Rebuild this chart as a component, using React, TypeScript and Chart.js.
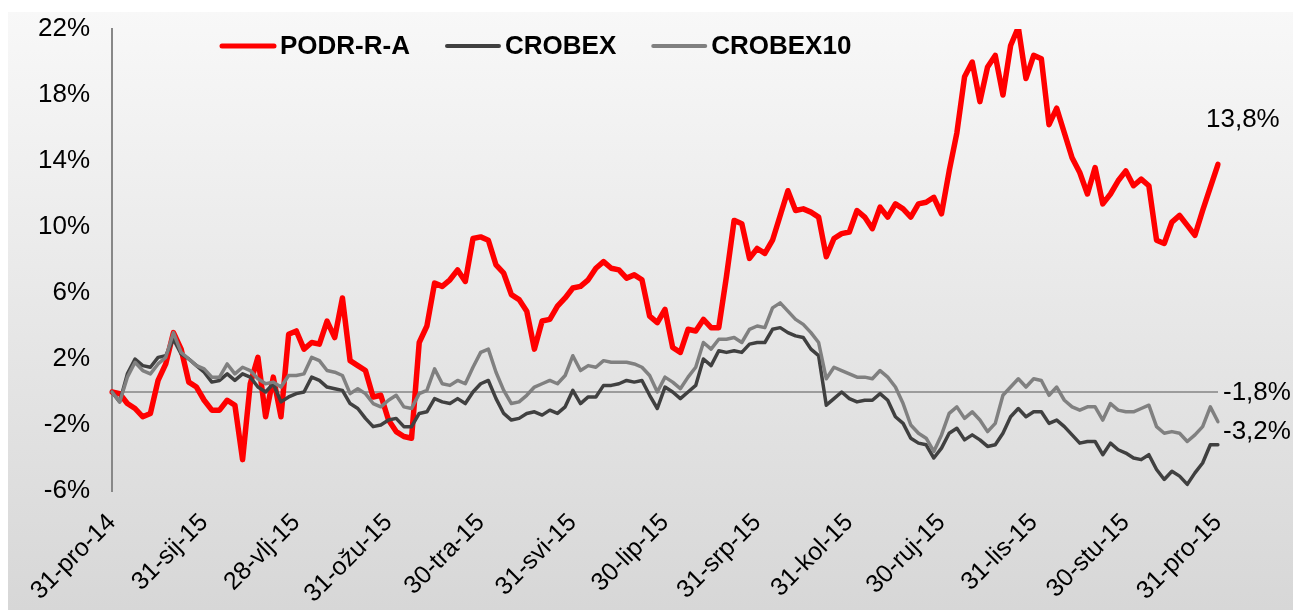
import React, { useEffect, useRef } from 'react';
import { Chart, registerables } from 'chart.js';

Chart.register(...registerables);

const FONT = '"Liberation Sans", Arial, sans-serif';

// Month-end labels shown on the category axis (one every `pointsPerMonth` points)
const monthLabels = [
  '31-pro-14', '31-sij-15', '28-vlj-15', '31-ožu-15', '30-tra-15', '31-svi-15', '30-lip-15',
  '31-srp-15', '31-kol-15', '30-ruj-15', '31-lis-15', '30-stu-15', '31-pro-15',
];
const pointsPerMonth = 12;

const yTicks = [-6, -2, 2, 6, 10, 14, 18, 22];

const seriesNames = ['PODR-R-A', 'CROBEX', 'CROBEX10'];

// Cumulative return (%), 12 samples per month
const podr = [
  0, -0.1, -0.7, -1.0, -1.5, -1.3, 0.7, 1.7, 3.6, 2.6, 0.6, 0.3,
  -0.5, -1.1, -1.1, -0.5, -0.8, -4.1, 0.5, 2.1, -1.5, 0.9, -1.5, 3.5,
  3.7, 2.6, 3.0, 2.9, 4.3, 3.3, 5.7, 1.9, 1.6, 1.3, -0.3, -0.2,
  -1.7, -2.4, -2.7, -2.8, 3.0, 4.0, 6.6, 6.4, 6.8, 7.4, 6.7, 9.3,
  9.4, 9.2, 7.7, 7.2, 5.9, 5.6, 4.9, 2.6, 4.3, 4.4, 5.2, 5.7,
  6.3, 6.4, 6.8, 7.5, 7.9, 7.5, 7.4, 6.9, 7.1, 6.8, 4.6, 4.2,
  5.0, 2.7, 2.4, 3.8, 3.7, 4.4, 3.9, 3.9, 7.0, 10.4, 10.2, 8.1,
  8.7, 8.4, 9.2, 10.7, 12.2, 11.0, 11.1, 10.9, 10.6, 8.2, 9.3, 9.6,
  9.7, 11.0, 10.6, 9.9, 11.2, 10.6, 11.4, 11.1, 10.6, 11.4, 11.5, 11.8,
  10.8, 13.4, 15.7, 19.1, 20.0, 17.6, 19.7, 20.4, 18.0, 21.0, 22.1, 19.0,
  20.4, 20.2, 16.2, 17.2, 15.7, 14.2, 13.3, 12.0, 13.6, 11.4, 12.0, 12.8,
  13.4, 12.5, 12.9, 12.5, 9.2, 9.0, 10.3, 10.7, 10.1, 9.5, 11.0, 12.4,
  13.8,
];

const crobex = [
  0, -0.6, 1.1, 2.0, 1.6, 1.5, 2.1, 2.2, 3.2, 2.3, 2.0, 1.6,
  1.2, 0.6, 0.7, 1.1, 0.7, 1.1, 0.9, 0.3, 0.0, 0.5, -0.6, -0.3,
  -0.1, 0.0, 0.9, 0.7, 0.3, 0.2, 0.1, -0.7, -1.0, -1.6, -2.1, -2.0,
  -1.7, -1.6, -2.1, -2.1, -1.3, -1.2, -0.4, -0.6, -0.7, -0.4, -0.7, 0.0,
  0.5, 0.7, -0.4, -1.3, -1.7, -1.6, -1.3, -1.2, -1.4, -1.1, -1.3, -0.9,
  0.1, -0.7, -0.3, -0.3, 0.4, 0.4, 0.5, 0.7, 0.6, 0.7, -0.2, -1.0,
  0.3, 0.0, -0.4, 0.0, 0.4, 2.0, 1.6, 2.5, 2.4, 2.5, 2.4, 2.9,
  3.0, 3.0, 3.8, 3.9, 3.6, 3.4, 3.3, 2.6, 2.2, -0.8, -0.4, 0.0,
  -0.4, -0.6, -0.5, -0.5, -0.1, -0.5, -1.5, -1.9, -2.8, -3.1, -3.2, -4.0,
  -3.4, -2.5, -2.2, -2.9, -2.6, -2.9, -3.3, -3.2, -2.5, -1.5, -1.0, -1.5,
  -1.2, -1.2, -1.9, -1.7, -2.1, -2.6, -3.1, -3.0, -3.0, -3.8, -3.1, -3.5,
  -3.7, -4.0, -4.1, -3.8, -4.7, -5.3, -4.8, -5.1, -5.6, -4.9, -4.3, -3.2,
  -3.2,
];

const crobex10 = [
  0, -0.6, 0.9, 1.8, 1.3, 1.1, 1.7, 2.1, 3.6, 2.4, 2.0, 1.6,
  1.4, 0.9, 0.9, 1.7, 1.1, 1.5, 1.3, 0.8, 0.5, 0.6, 0.3, 1.0,
  1.0, 1.1, 2.1, 1.9, 1.3, 1.2, 1.0, -0.1, 0.2, -0.1, -0.7, -0.9,
  -0.5, -0.2, -0.9, -1.0, -0.1, 0.1, 1.4, 0.5, 0.4, 0.7, 0.5, 1.5,
  2.4, 2.6, 1.2, 0.1, -0.7, -0.6, -0.2, 0.3, 0.5, 0.7, 0.5, 1.0,
  2.2, 1.3, 1.6, 1.5, 1.9, 1.8, 1.8, 1.8, 1.7, 1.5, 1.0, 0.0,
  0.9, 0.6, 0.2, 0.9, 1.5, 3.0, 2.6, 3.2, 3.2, 3.3, 3.0, 3.8,
  4.0, 3.9, 5.1, 5.4, 4.9, 4.4, 4.1, 3.6, 3.0, 0.8, 1.5, 1.3,
  1.1, 0.9, 0.9, 0.8, 1.3, 0.9, 0.3, -0.7, -2.0, -2.5, -2.8, -3.6,
  -2.6, -1.3, -0.9, -1.6, -1.2, -1.7, -2.4, -1.9, -0.2, 0.3, 0.8, 0.3,
  0.8, 0.7, -0.2, 0.3, -0.5, -0.9, -1.1, -0.9, -0.9, -1.7, -0.7, -1.1,
  -1.2, -1.2, -1.0, -0.8, -2.1, -2.5, -2.4, -2.5, -3.0, -2.6, -2.1, -0.9,
  -1.8,
];

const seriesValues = [podr, crobex, crobex10];
const seriesColors = ['#ff0000', '#404040', '#808080'];
const seriesWidths = [5.5, 3.5, 3.5];
const seriesOrder = [2, 1, 0];
// offsets of the end-value labels from the last point (px)
const endLabelOffsets = [
  { dx: -12, dy: -37 },
  { dx: 5, dy: -6 },
  { dx: 5, dy: -22 },
];

const formatPct = (v: number) => v.toFixed(1).replace('.', ',') + '%';

const overlayPlugin = {
  id: 'overlay',
  beforeDatasetsDraw(chart: any) {
    const { ctx, chartArea, scales } = chart;
    const y0 = scales.y.getPixelForValue(0);
    ctx.save();
    ctx.strokeStyle = '#858585';
    ctx.lineWidth = 1.5;
    ctx.beginPath();
    ctx.moveTo(chartArea.left, y0);
    ctx.lineTo(chartArea.right, y0);
    ctx.stroke();
    ctx.restore();
  },
  afterDraw(chart: any) {
    const { ctx, chartArea, scales } = chart;
    ctx.save();
    // legend
    ctx.font = `bold 26px ${FONT}`;
    ctx.textBaseline = 'middle';
    ctx.textAlign = 'left';
    ctx.lineCap = 'round';
    let x = chartArea.left + 108;
    const y = chartArea.top + 17;
    seriesNames.forEach((name, i) => {
      ctx.strokeStyle = seriesColors[i];
      ctx.lineWidth = i === 0 ? 5 : 4;
      ctx.beginPath();
      ctx.moveTo(x + 2, y);
      ctx.lineTo(x + 54, y);
      ctx.stroke();
      ctx.fillStyle = '#000';
      ctx.fillText(name, x + 60, y + 1);
      x += 60 + ctx.measureText(name).width + 35;
    });
    // end labels
    ctx.font = `26px ${FONT}`;
    ctx.textBaseline = 'alphabetic';
    seriesValues.forEach((vals, i) => {
      const last = vals.length - 1;
      const px = scales.x.getPixelForValue(last);
      const py = scales.y.getPixelForValue(vals[last]);
      ctx.fillStyle = '#000';
      ctx.fillText(formatPct(vals[last]), px + endLabelOffsets[i].dx, py + endLabelOffsets[i].dy);
    });
    ctx.restore();
  },
};

export default function App() {
  const ref = useRef<HTMLCanvasElement>(null);

  useEffect(() => {
    if (!ref.current) return;
    const labels = podr.map((_, i) => i);
    const chart = new Chart(ref.current, {
      type: 'line',
      data: {
        labels,
        datasets: seriesNames.map((name, i) => ({
          label: name,
          data: seriesValues[i],
          borderColor: seriesColors[i],
          backgroundColor: seriesColors[i],
          borderWidth: seriesWidths[i],
          pointRadius: 0,
          pointHoverRadius: 0,
          tension: 0,
          fill: false,
          borderJoinStyle: 'round' as const,
          borderCapStyle: 'round' as const,
          order: seriesOrder[i],
        })),
      },
      options: {
        animation: false,
        responsive: false,
        devicePixelRatio: 1,
        layout: { padding: { top: 17, right: 75, bottom: 0, left: 0 } },
        plugins: {
          legend: { display: false },
          tooltip: { enabled: false },
        },
        scales: {
          x: {
            type: 'category',
            offset: false,
            grid: { display: false, drawTicks: false },
            border: { display: false },
            ticks: {
              autoSkip: false,
              maxRotation: 45,
              minRotation: 45,
              padding: 17,
              color: '#000',
              font: { size: 25, family: FONT },
              callback: (_v: any, i: number) =>
                i % pointsPerMonth === 0 ? monthLabels[i / pointsPerMonth] : null,
            },
            afterFit: (s: any) => {
              s.height = 119;
              s.paddingLeft = 0;
              s.paddingRight = 0;
            },
          },
          y: {
            min: -6,
            max: 22,
            afterBuildTicks: (s: any) => {
              s.ticks = yTicks.map((v) => ({ value: v }));
            },
            grid: { display: false, drawTicks: false },
            border: { display: true, color: '#888888', width: 2 },
            ticks: {
              padding: 22,
              color: '#000',
              font: { size: 26, family: FONT },
              callback: (v: any) => `${v}%`,
            },
            afterFit: (s: any) => {
              s.width = 104;
              s.paddingTop = 0;
              s.paddingBottom = 0;
            },
          },
        },
      },
      plugins: [overlayPlugin],
    } as any);
    return () => chart.destroy();
  }, []);

  return (
    <div
      style={{
        position: 'fixed',
        left: 8,
        top: 12,
        width: 1285,
        height: 598,
        background: 'linear-gradient(to bottom, #f8f8f8 0%, #d7d7d7 100%)',
      }}
    >
      <canvas ref={ref} width={1285} height={598} style={{ display: 'block', width: 1285, height: 598 }} />
    </div>
  );
}
